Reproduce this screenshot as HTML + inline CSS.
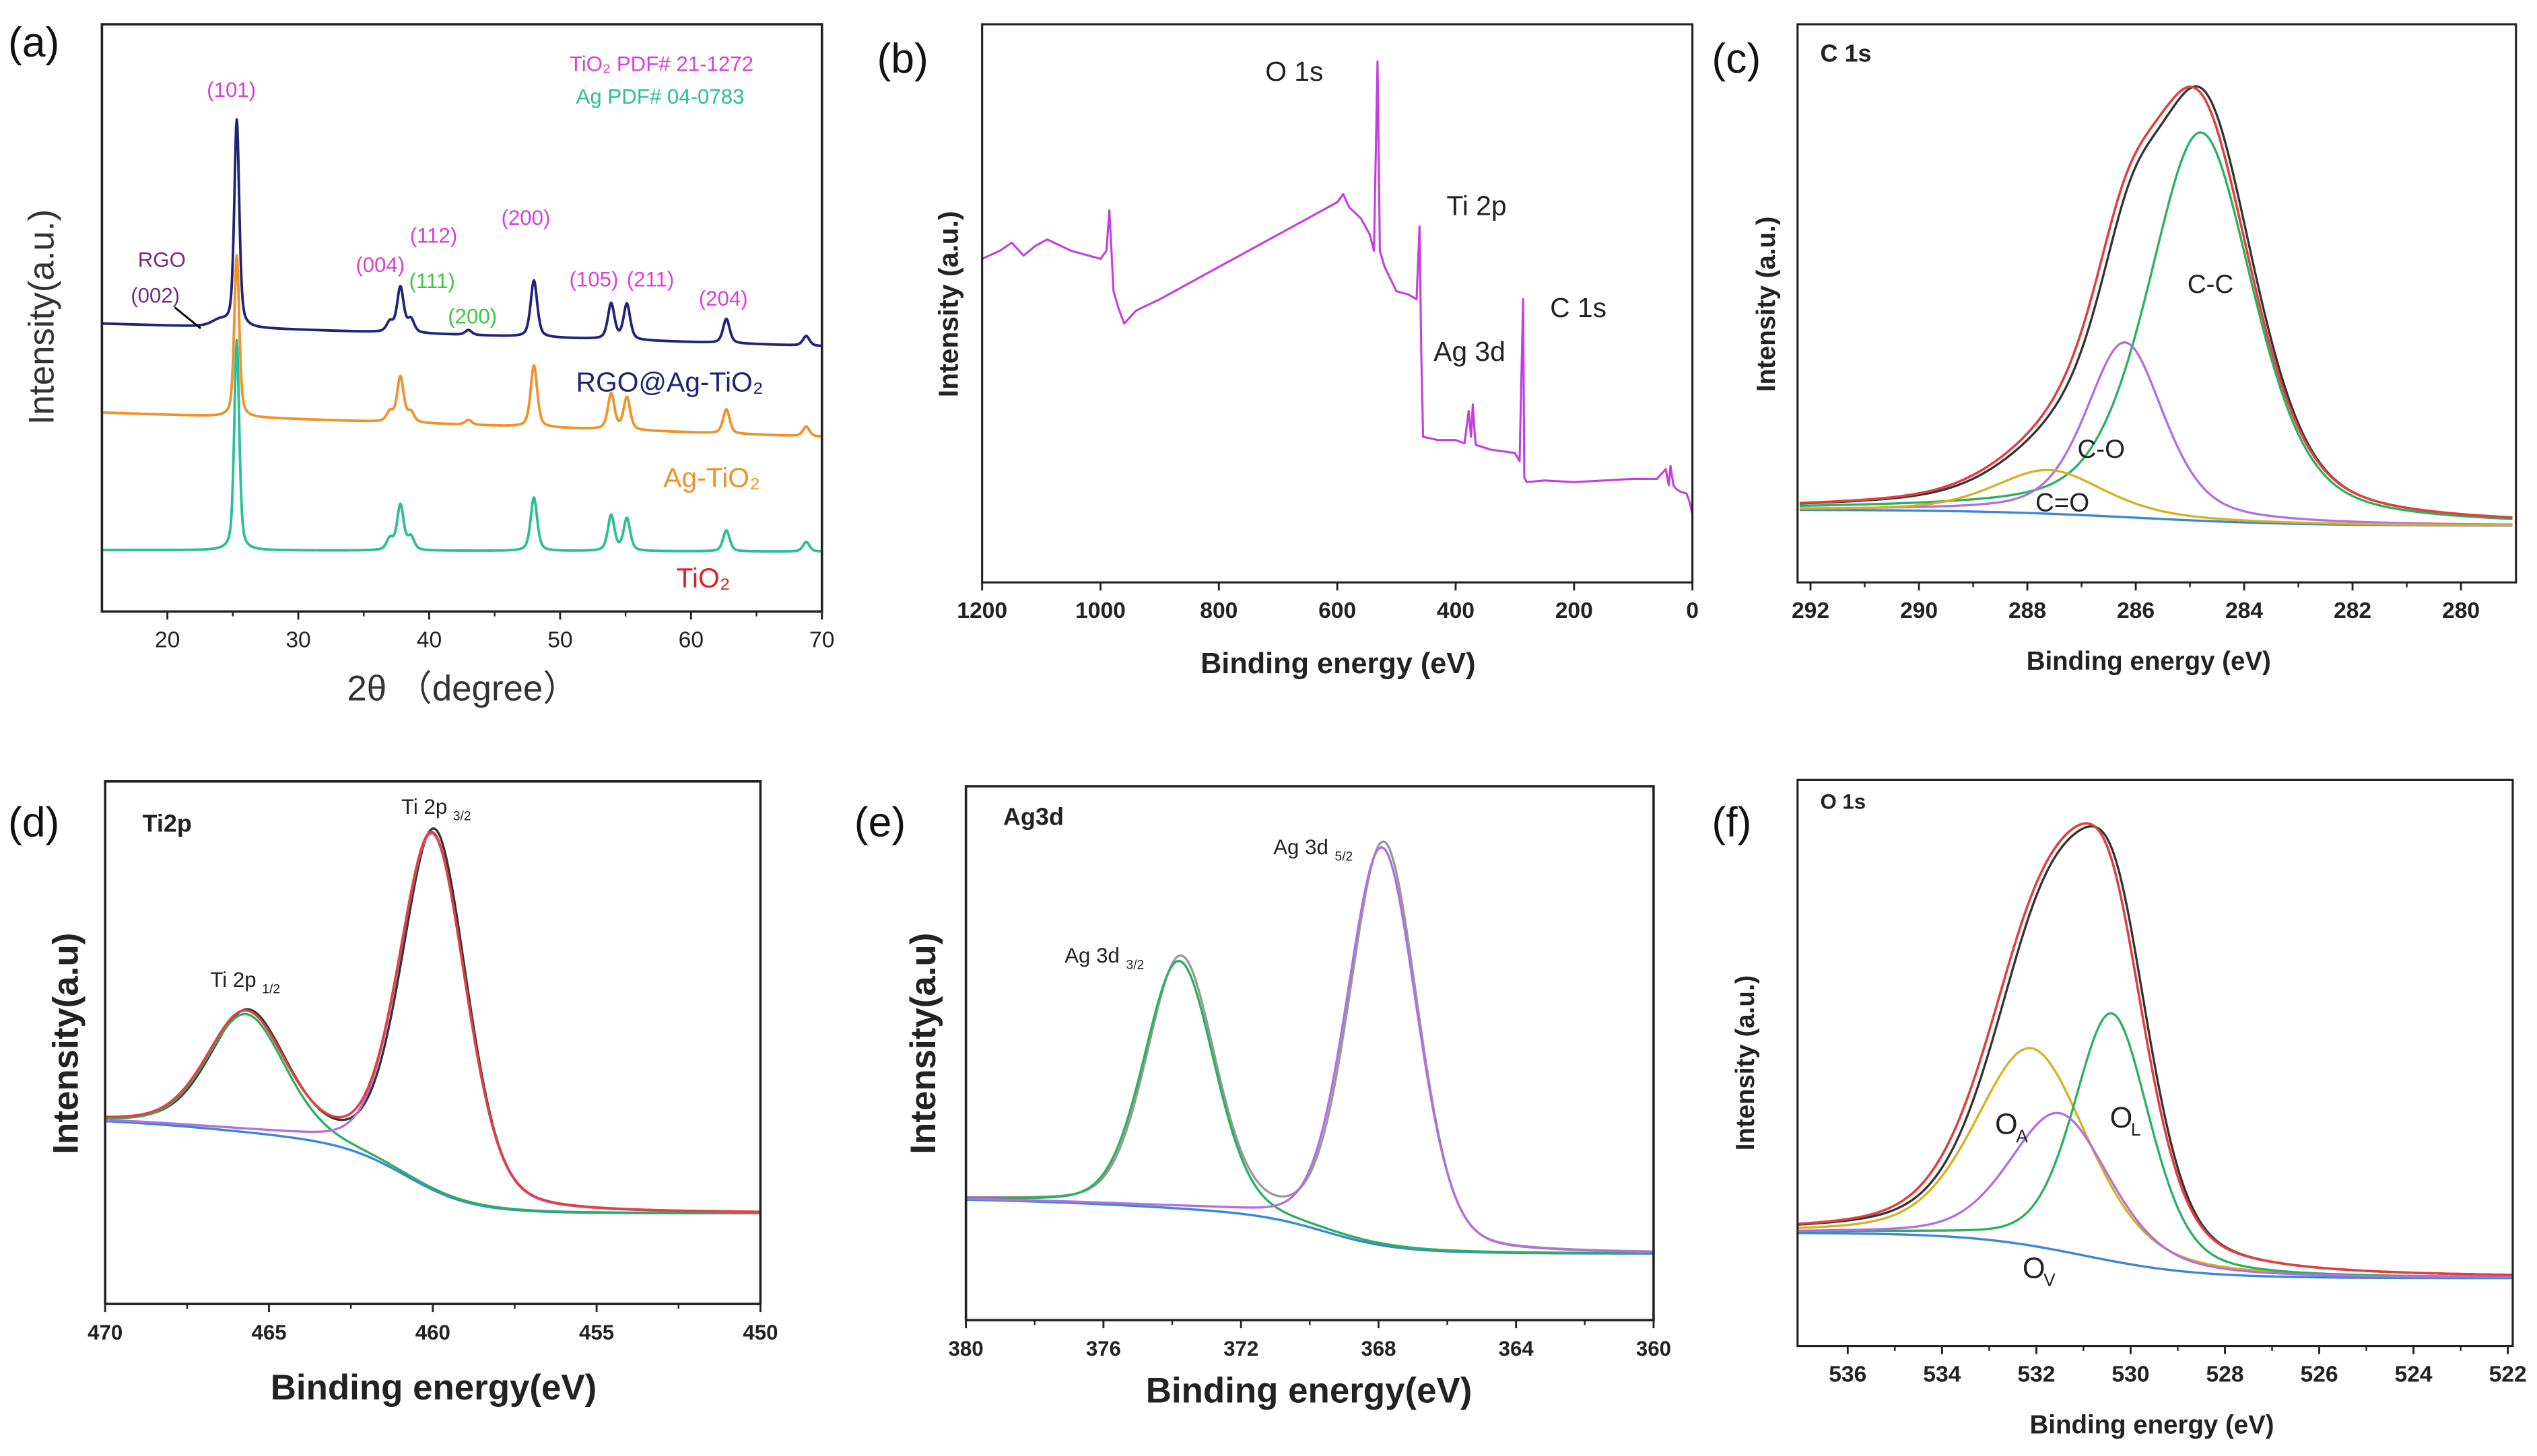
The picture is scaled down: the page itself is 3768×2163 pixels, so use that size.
<!DOCTYPE html>
<html><head><meta charset="utf-8">
<style>
html,body{margin:0;padding:0;background:#fff;}
svg{display:block;}
text{font-family:"Liberation Sans","DejaVu Sans",sans-serif;}
</style></head>
<body>
<svg id="fig" xmlns="http://www.w3.org/2000/svg" width="3768" height="2163" viewBox="0 0 1568 900" preserveAspectRatio="none"></svg>
<script>
// ---------- Panel (a) XRD data ----------
const xrdPeakPos = [24.0, 25.3, 37.0, 37.8, 38.6, 43.0, 48.0, 53.9, 55.1, 62.7, 68.8];
const xrdNavy   = [4, 128, 6, 28, 8, 3, 35, 22, 22, 15, 6];
const xrdOrange = [0, 100, 6, 28, 6, 3, 38, 22, 20, 15, 6];
const xrdTeal   = [0, 130, 7, 28, 8, 0, 33, 22, 20, 13, 6];
const xrdBaseStart = [200, 255, 340];
const xrdBaseEnd = [214, 270, 341];
const xrdTicks = [20, 30, 40, 50, 60, 70];
// ---------- Panel (b) survey ----------
const surveyBE = [1200,1170,1150,1130,1110,1090,1050,1000,990,985,978,970,960,940,900,850,800,750,700,650,600,590,580,560,545,538,532,528,520,500,480,466,461,458,455,430,400,385,378,374,371,368,366,340,300,292,286,284,280,250,200,150,100,60,45,40,37,32,28,20,10,5,0];
const surveyI  = [200,205,210,202,208,212,205,200,205,230,180,170,160,168,175,185,195,205,215,225,235,240,232,225,215,205,322,205,195,180,178,175,220,140,90,88,88,86,106,90,110,93,85,82,80,75,175,65,62,63,62,63,64,64,70,60,72,60,58,56,55,50,42];
const surveyTicks = [1200,1000,800,600,400,200,0];
// ---------- Panel (c) C1s ----------
const c1sCenters = [284.8, 286.2, 287.6];
const c1sHeights = [240, 108, 27];
const c1sWidths  = [2.3, 1.7, 2.4];
const c1sTicks = [292,290,288,286,284,282,280];
// ---------- Panel (d) Ti2p ----------
const tiCenters = [465.7, 460.0];
const tiHeights = [73, 220];
const tiWidths  = [2.8, 2.4];
const tiTicks = [470,465,460,455,450];
// ---------- Panel (e) Ag3d ----------
const agCenters = [373.8, 367.9];
const agHeights = [153, 246];
const agWidths  = [2.4, 2.4];
const agTicks = [380,376,372,368,364,360];
// ---------- Panel (f) O1s ----------
const o1sCenters = [532.1, 530.4, 531.5];
const o1sHeights = [122, 153, 85];
const o1sWidths  = [2.8, 1.9, 2.5];
const o1sTicks = [536,534,532,530,528,526,524,522];

const NS = "http://www.w3.org/2000/svg";
const svg = document.getElementById('fig');
function mk(tag, parent){ const e=document.createElementNS(NS,tag); parent.appendChild(e); return e; }
function set(e,o){ for(const k in o) e.setAttribute(k,o[k]); return e; }
function pv(x,c,h,w,eta){ const d=(x-c)/w; return h*(eta/(1+4*d*d)+(1-eta)*Math.exp(-4*Math.LN2*d*d)); }
function sig(z){ return 1/(1+Math.exp(-z)); }
function txt(parent,x,y,s,size,fill,weight,anchor){ const t=mk('text',parent); set(t,{x:x,y:y,'font-size':size,fill:fill||'#000','font-weight':weight||'normal','text-anchor':anchor||'start'}); t.textContent=s; return t; }
function pathFrom(parent, xs, ys, color, w){ let d=''; for(let i=0;i<xs.length;i++) d+=(i?'L':'M')+xs[i].toFixed(2)+' '+ys[i].toFixed(2); const p=mk('path',parent); set(p,{d:d,fill:'none',stroke:color,'stroke-width':w||1.3,'stroke-linejoin':'round'}); return p; }
function frame(parent,x0,y0,x1,y1,sw){ const r=mk('rect',parent); set(r,{x:x0,y:y0,width:x1-x0,height:y1-y0,fill:'none',stroke:'#222','stroke-width':sw||1.5}); return r; }
function xTicks(parent, ticks, sx, y, size, bold, minor){ 
  ticks.forEach(t=>{ const l=mk('line',parent); set(l,{x1:sx(t),x2:sx(t),y1:y,y2:y+5,stroke:'#222','stroke-width':1.2}); txt(parent,sx(t),y+22,String(t),size,'#222',bold?'bold':'normal','middle'); });
  if(minor){ for(let i=0;i<ticks.length-1;i++){ const m=(ticks[i]+ticks[i+1])/2; const l=mk('line',parent); set(l,{x1:sx(m),x2:sx(m),y1:y,y2:y+3,stroke:'#222','stroke-width':1}); } }
}
function rng(a,b,n){ const r=[]; for(let i=0;i<=n;i++) r.push(a+(b-a)*i/n); return r; }

// ===== Panel (a) =====
const gA = mk('g',svg);


const axA = (v)=>63+(v-15)*(508-63)/55;
txt(gA,5,35,'(a)',26,'#111');
const xsA = rng(15,70,1100);
[[xrdNavy,'#1f2478'],[xrdOrange,'#f0922a'],[xrdTeal,'#2bbf95']].forEach((s,si)=>{
  const ys = xsA.map(x=>{ let base=xrdBaseStart[si]+(xrdBaseEnd[si]-xrdBaseStart[si])*(x-15)/55; let v=0; xrdPeakPos.forEach((c,i)=>{ v+=pv(x,c,s[0][i],c<26?(c<25?1.5:0.45):0.6,0.5); }); return base - v; });
  const p = pathFrom(gA, xsA.map(axA), ys, s[1], 1.6);
  
  
});
frame(gA,63,15,508,378,1.5);
xTicks(gA,xrdTicks,axA,378,14,false,true);
const ylA = txt(gA,0,0,'Intensity(a.u.)',22,'#333','normal','middle'); set(ylA,{transform:'translate(33,196) rotate(-90)'});

const xlA = txt(gA,286,433,'2θ （degree）',22,'#333','normal','middle');

txt(gA,352,44,'TiO₂ PDF# 21-1272',13,'#d83fd8');
txt(gA,356,64,'Ag PDF# 04-0783',13,'#2bbf95');
txt(gA,143,60,'(101)',13,'#d83fd8','normal','middle');
txt(gA,100,165,'RGO',13,'#7a2a7a','normal','middle');
txt(gA,96,187,'(002)',13,'#7a2a7a','normal','middle');
const arr = mk('line',gA); set(arr,{x1:108,y1:190,x2:124,y2:203,stroke:'#000','stroke-width':1.2});
txt(gA,235,168,'(004)',13,'#d83fd8','normal','middle');
txt(gA,268,150,'(112)',13,'#d83fd8','normal','middle');
txt(gA,267,178,'(111)',13,'#3ac83a','normal','middle');
txt(gA,292,200,'(200)',13,'#3ac83a','normal','middle');
txt(gA,325,139,'(200)',13,'#d83fd8','normal','middle');
txt(gA,367,177,'(105)',13,'#d83fd8','normal','middle');
txt(gA,402,177,'(211)',13,'#d83fd8','normal','middle');
txt(gA,447,189,'(204)',13,'#d83fd8','normal','middle');
txt(gA,356,242,'RGO@Ag-TiO₂',17,'#1f2478');
txt(gA,410,301,'Ag-TiO₂',17,'#f0922a');
txt(gA,418,363,'TiO₂',17,'#e02020');

// ===== Panel (b) =====
const gB = mk('g',svg);


const bx = v=>607+(1200-v)*(1046-607)/1200, by = v=>360-v;
txt(gB,542,45,'(b)',26,'#111');
const pb = pathFrom(gB, surveyBE.map(bx), surveyI.map(by), '#c23fe0', 1.3);


frame(gB,607,15,1046,360,1.3);
xTicks(gB,surveyTicks,bx,360,14,true,false);
const ylB = txt(gB,0,0,'Intensity (a.u.)',17,'#222','bold','middle'); set(ylB,{transform:'translate(592,188) rotate(-90)'});

const xlB = txt(gB,827,416,'Binding energy (eV)',18,'#222','bold','middle');

txt(gB,782,50,'O 1s',17,'#222');
txt(gB,894,133,'Ti 2p',17,'#222');
txt(gB,958,196,'C 1s',17,'#222');
txt(gB,886,223,'Ag 3d',17,'#222');

// ===== generic fitted panel =====
function fitted(g, sx, zeroY, beA, beB, bgFn, comps, colors, env, rawColor, rawShift){
  const xs = rng(beA,beB,600);
  const bgv = xs.map(bgFn);
  const pbg = pathFrom(g, xs.map(sx), bgv.map(v=>zeroY-v), '#3a86d8', 1.4);
  
  
  const compVals = comps.map(c=>xs.map(x=>pv(x,c[0],c[1],c[2],c[3])));
  const total = xs.map((x,i)=>bgv[i]+compVals.reduce((s,a)=>s+a[i],0));
  const rawv = xs.map((x,i)=>{ const xx=x+rawShift; return bgFn(xx)+comps.reduce((s,c)=>s+pv(xx,c[0],c[1]*1.01,c[2]*0.97,c[3]),0); });
  const pr = pathFrom(g, xs.map(sx), rawv.map(v=>zeroY-v), rawColor, 1.4);
  
  
  compVals.forEach((a,k)=>{ const p=pathFrom(g, xs.map(sx), a.map((v,i)=>zeroY-v-bgv[i]), colors[k], 1.4);
    
     });
  if(env){ const pe=pathFrom(g, xs.map(sx), total.map(v=>zeroY-v), '#e04040', 1.5);
    
     }
}

// ===== Panel (c) =====
const gC = mk('g',svg);


const cx = v=>1119+(292-v)*33.5;
txt(gC,1058,45,'(c)',26,'#111');
txt(gC,1125,38,'C 1s',15,'#222','bold');
fitted(gC,cx,325,292.2,279.05,x=>10*sig((x-286)/1.5),
  c1sCenters.map((c,i)=>[c,c1sHeights[i],c1sWidths[i],0.45]),['#2bb060','#b070e0','#d8b020'],true,'#333',0.08);
frame(gC,1111,15,1555,360,1.3);
xTicks(gC,c1sTicks,cx,360,14,true,true);
const ylC = txt(gC,0,0,'Intensity (a.u.)',16,'#222','bold','middle'); set(ylC,{transform:'translate(1097,188) rotate(-90)'});

const xlC = txt(gC,1328,414,'Binding energy (eV)',16,'#222','bold','middle');

txt(gC,1352,181,'C-C',16,'#222');
txt(gC,1284,283,'C-O',16,'#222');
txt(gC,1258,316,'C=O',16,'#222');

// ===== Panel (d) =====
const gD = mk('g',svg);


const dx = v=>65+(470-v)*20.25;
txt(gD,5,517,'(d)',26,'#111');
txt(gD,88,514,'Ti2p',15,'#222','bold');
fitted(gD,dx,751,470,450,x=>1+42*sig((x-460.8)/1.0)+18*sig((x-466)/2.5),
  tiCenters.map((c,i)=>[c,tiHeights[i],tiWidths[i],0.25]),['#2bb060','#b070e0'],true,'#333',0.06);
frame(gD,65,483,470,806,1.5);
xTicks(gD,tiTicks,dx,806,13,true,true);
const ylD = txt(gD,0,0,'Intensity(a.u)',22,'#222','bold','middle'); set(ylD,{transform:'translate(48,645) rotate(-90)'});

const xlD = txt(gD,268,865,'Binding energy(eV)',22,'#222','bold','middle');

txt(gD,130,610,'Ti 2p',13,'#222'); txt(gD,162,614,'1/2',8,'#222');
txt(gD,248,503,'Ti 2p',13,'#222'); txt(gD,280,507,'3/2',8,'#222');

// ===== Panel (e) =====
const gE = mk('g',svg);


const ex = v=>597+(380-v)*21.25;
txt(gE,528,517,'(e)',26,'#111');
txt(gE,620,510,'Ag3d',15,'#222','bold');
fitted(gE,ex,776,380,360,x=>1+22*sig((x-369.5)/1.0)+13*sig((x-374)/3),
  agCenters.map((c,i)=>[c,agHeights[i],agWidths[i],0.2]),['#2bb060','#b070e0'],false,'#999',0.05);
frame(gE,597,486,1022,816,1.5);
xTicks(gE,agTicks,ex,816,13,true,true);
const ylE = txt(gE,0,0,'Intensity(a.u)',22,'#222','bold','middle'); set(ylE,{transform:'translate(578,645) rotate(-90)'});

const xlE = txt(gE,809,867,'Binding energy(eV)',22,'#222','bold','middle');

txt(gE,658,595,'Ag 3d',13,'#222'); txt(gE,696,599,'3/2',8,'#222');
txt(gE,787,528,'Ag 3d',13,'#222'); txt(gE,825,532,'5/2',8,'#222');

// ===== Panel (f) =====
const gF = mk('g',svg);


const fx = v=>1142+(536-v)*29.14;
txt(gF,1058,517,'(f)',26,'#111');
txt(gF,1125,500,'O 1s',13,'#222','bold');
fitted(gF,fx,790,537.05,521.9,x=>28*sig((x-531)/1.2),
  o1sCenters.map((c,i)=>[c,o1sHeights[i],o1sWidths[i],0.35]),['#d8b020','#2bb060','#b070e0'],true,'#333',0.1);
frame(gF,1111,482,1553,832,1.3);
xTicks(gF,o1sTicks,fx,832,14,true,true);
const ylF = txt(gF,0,0,'Intensity (a.u.)',16,'#222','bold','middle'); set(ylF,{transform:'translate(1084,657) rotate(-90)'});

const xlF = txt(gF,1330,886,'Binding energy (eV)',16,'#222','bold','middle');

txt(gF,1233,701,'O',18,'#222'); txt(gF,1246,706,'A',11,'#222');
txt(gF,1304,697,'O',18,'#222'); txt(gF,1317,702,'L',11,'#222');
txt(gF,1250,790,'O',18,'#222'); txt(gF,1263,795,'V',11,'#222');
</script>
</body></html>
